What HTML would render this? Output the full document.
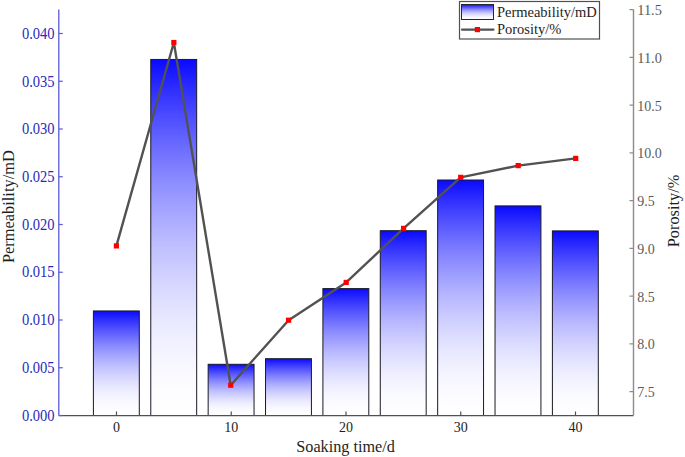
<!DOCTYPE html>
<html><head><meta charset="utf-8"><style>
html,body{margin:0;padding:0;background:#fff;}
svg{display:block;font-family:"Liberation Serif",serif;}
</style></head><body>
<svg width="685" height="457" viewBox="0 0 685 457">
<defs>
<linearGradient id="g" x1="0" y1="0" x2="0" y2="1"><stop offset="0.000" stop-color="rgb(10,10,255)"/><stop offset="0.083" stop-color="rgb(46,46,255)"/><stop offset="0.167" stop-color="rgb(79,79,255)"/><stop offset="0.250" stop-color="rgb(109,109,255)"/><stop offset="0.333" stop-color="rgb(137,137,255)"/><stop offset="0.417" stop-color="rgb(162,162,255)"/><stop offset="0.500" stop-color="rgb(185,185,255)"/><stop offset="0.583" stop-color="rgb(204,204,255)"/><stop offset="0.667" stop-color="rgb(221,221,255)"/><stop offset="0.750" stop-color="rgb(235,235,255)"/><stop offset="0.833" stop-color="rgb(245,245,255)"/><stop offset="0.917" stop-color="rgb(252,252,255)"/><stop offset="1.000" stop-color="rgb(255,255,255)"/></linearGradient>
</defs>
<rect x="93.4" y="310.95" width="45.90" height="104.55" fill="url(#g)" stroke="#1a1a24" stroke-width="1"/>
<rect x="150.775" y="59.45" width="45.90" height="356.05" fill="url(#g)" stroke="#1a1a24" stroke-width="1"/>
<rect x="208.15" y="364.30" width="45.90" height="51.20" fill="url(#g)" stroke="#1a1a24" stroke-width="1"/>
<rect x="265.525" y="358.70" width="45.90" height="56.80" fill="url(#g)" stroke="#1a1a24" stroke-width="1"/>
<rect x="322.9" y="288.60" width="45.90" height="126.90" fill="url(#g)" stroke="#1a1a24" stroke-width="1"/>
<rect x="380.275" y="230.70" width="45.90" height="184.80" fill="url(#g)" stroke="#1a1a24" stroke-width="1"/>
<rect x="437.65" y="180.00" width="45.90" height="235.50" fill="url(#g)" stroke="#1a1a24" stroke-width="1"/>
<rect x="495.025" y="205.90" width="45.90" height="209.60" fill="url(#g)" stroke="#1a1a24" stroke-width="1"/>
<rect x="552.4" y="230.90" width="45.90" height="184.60" fill="url(#g)" stroke="#1a1a24" stroke-width="1"/>
<line x1="58.8" y1="415.6" x2="633.5" y2="415.6" stroke="#505050" stroke-width="1.4"/>
<line x1="116.5" y1="415.5" x2="116.5" y2="411.5" stroke="#505050" stroke-width="1.2"/>
<text x="116.50" y="431.6" text-anchor="middle" font-size="14" fill="#1e1e1e">0</text>
<line x1="231.25" y1="415.5" x2="231.25" y2="411.5" stroke="#505050" stroke-width="1.2"/>
<text x="231.25" y="431.6" text-anchor="middle" font-size="14" fill="#1e1e1e">10</text>
<line x1="346.0" y1="415.5" x2="346.0" y2="411.5" stroke="#505050" stroke-width="1.2"/>
<text x="346.00" y="431.6" text-anchor="middle" font-size="14" fill="#1e1e1e">20</text>
<line x1="460.75" y1="415.5" x2="460.75" y2="411.5" stroke="#505050" stroke-width="1.2"/>
<text x="460.75" y="431.6" text-anchor="middle" font-size="14" fill="#1e1e1e">30</text>
<line x1="575.5" y1="415.5" x2="575.5" y2="411.5" stroke="#505050" stroke-width="1.2"/>
<text x="575.50" y="431.6" text-anchor="middle" font-size="14" fill="#1e1e1e">40</text>
<line x1="58.8" y1="9.6" x2="58.8" y2="415.5" stroke="#5a5ad8" stroke-width="1.3"/>
<line x1="58.8" y1="415.5" x2="62.8" y2="415.5" stroke="#5a5ad8" stroke-width="1.2"/>
<text x="54.6" y="420.7" text-anchor="end" font-size="15.7" textLength="32.7" lengthAdjust="spacingAndGlyphs" fill="#2a2abb">0.000</text>
<line x1="58.8" y1="367.75" x2="62.8" y2="367.75" stroke="#5a5ad8" stroke-width="1.2"/>
<text x="54.6" y="372.9" text-anchor="end" font-size="15.7" textLength="32.7" lengthAdjust="spacingAndGlyphs" fill="#2a2abb">0.005</text>
<line x1="58.8" y1="320.0" x2="62.8" y2="320.0" stroke="#5a5ad8" stroke-width="1.2"/>
<text x="54.6" y="325.2" text-anchor="end" font-size="15.7" textLength="32.7" lengthAdjust="spacingAndGlyphs" fill="#2a2abb">0.010</text>
<line x1="58.8" y1="272.25" x2="62.8" y2="272.25" stroke="#5a5ad8" stroke-width="1.2"/>
<text x="54.6" y="277.4" text-anchor="end" font-size="15.7" textLength="32.7" lengthAdjust="spacingAndGlyphs" fill="#2a2abb">0.015</text>
<line x1="58.8" y1="224.5" x2="62.8" y2="224.5" stroke="#5a5ad8" stroke-width="1.2"/>
<text x="54.6" y="229.7" text-anchor="end" font-size="15.7" textLength="32.7" lengthAdjust="spacingAndGlyphs" fill="#2a2abb">0.020</text>
<line x1="58.8" y1="176.75" x2="62.8" y2="176.75" stroke="#5a5ad8" stroke-width="1.2"/>
<text x="54.6" y="181.9" text-anchor="end" font-size="15.7" textLength="32.7" lengthAdjust="spacingAndGlyphs" fill="#2a2abb">0.025</text>
<line x1="58.8" y1="129.0" x2="62.8" y2="129.0" stroke="#5a5ad8" stroke-width="1.2"/>
<text x="54.6" y="134.2" text-anchor="end" font-size="15.7" textLength="32.7" lengthAdjust="spacingAndGlyphs" fill="#2a2abb">0.030</text>
<line x1="58.8" y1="81.25" x2="62.8" y2="81.25" stroke="#5a5ad8" stroke-width="1.2"/>
<text x="54.6" y="86.5" text-anchor="end" font-size="15.7" textLength="32.7" lengthAdjust="spacingAndGlyphs" fill="#2a2abb">0.035</text>
<line x1="58.8" y1="33.5" x2="62.8" y2="33.5" stroke="#5a5ad8" stroke-width="1.2"/>
<text x="54.6" y="38.7" text-anchor="end" font-size="15.7" textLength="32.7" lengthAdjust="spacingAndGlyphs" fill="#2a2abb">0.040</text>
<line x1="633.5" y1="9.6" x2="633.5" y2="415.5" stroke="#8c8c8c" stroke-width="1.4"/>
<line x1="633.5" y1="391.625" x2="629.5" y2="391.625" stroke="#8c8c8c" stroke-width="1.2"/>
<text x="637.3" y="397.0" font-size="15.2" textLength="17.50" lengthAdjust="spacingAndGlyphs" fill="#5a5a5a">7.5</text>
<line x1="633.5" y1="343.875" x2="629.5" y2="343.875" stroke="#8c8c8c" stroke-width="1.2"/>
<text x="637.3" y="349.3" font-size="15.2" textLength="17.50" lengthAdjust="spacingAndGlyphs" fill="#5a5a5a">8.0</text>
<line x1="633.5" y1="296.125" x2="629.5" y2="296.125" stroke="#8c8c8c" stroke-width="1.2"/>
<text x="637.3" y="301.5" font-size="15.2" textLength="17.50" lengthAdjust="spacingAndGlyphs" fill="#5a5a5a">8.5</text>
<line x1="633.5" y1="248.375" x2="629.5" y2="248.375" stroke="#8c8c8c" stroke-width="1.2"/>
<text x="637.3" y="253.8" font-size="15.2" textLength="17.50" lengthAdjust="spacingAndGlyphs" fill="#5a5a5a">9.0</text>
<line x1="633.5" y1="200.625" x2="629.5" y2="200.625" stroke="#8c8c8c" stroke-width="1.2"/>
<text x="637.3" y="206.0" font-size="15.2" textLength="17.50" lengthAdjust="spacingAndGlyphs" fill="#5a5a5a">9.5</text>
<line x1="633.5" y1="152.875" x2="629.5" y2="152.875" stroke="#8c8c8c" stroke-width="1.2"/>
<text x="637.3" y="158.3" font-size="15.2" textLength="24.50" lengthAdjust="spacingAndGlyphs" fill="#5a5a5a">10.0</text>
<line x1="633.5" y1="105.125" x2="629.5" y2="105.125" stroke="#8c8c8c" stroke-width="1.2"/>
<text x="637.3" y="110.5" font-size="15.2" textLength="24.50" lengthAdjust="spacingAndGlyphs" fill="#5a5a5a">10.5</text>
<line x1="633.5" y1="57.375" x2="629.5" y2="57.375" stroke="#8c8c8c" stroke-width="1.2"/>
<text x="637.3" y="62.8" font-size="15.2" textLength="24.50" lengthAdjust="spacingAndGlyphs" fill="#5a5a5a">11.0</text>
<line x1="633.5" y1="9.625" x2="629.5" y2="9.625" stroke="#8c8c8c" stroke-width="1.2"/>
<text x="637.3" y="15.0" font-size="15.2" textLength="24.50" lengthAdjust="spacingAndGlyphs" fill="#5a5a5a">11.5</text>
<polyline points="116.40,245.90 173.85,42.50 230.70,385.20 288.60,320.20 346.20,282.40 403.60,228.40 460.70,177.35 518.20,165.60 575.70,158.40" fill="none" stroke="#525252" stroke-width="2.4" stroke-linejoin="round"/>
<rect x="113.80" y="243.30" width="5.2" height="5.2" fill="#ff0000"/>
<rect x="171.25" y="39.90" width="5.2" height="5.2" fill="#ff0000"/>
<rect x="228.10" y="382.60" width="5.2" height="5.2" fill="#ff0000"/>
<rect x="286.00" y="317.60" width="5.2" height="5.2" fill="#ff0000"/>
<rect x="343.60" y="279.80" width="5.2" height="5.2" fill="#ff0000"/>
<rect x="401.00" y="225.80" width="5.2" height="5.2" fill="#ff0000"/>
<rect x="458.10" y="174.75" width="5.2" height="5.2" fill="#ff0000"/>
<rect x="515.60" y="163.00" width="5.2" height="5.2" fill="#ff0000"/>
<rect x="573.10" y="155.80" width="5.2" height="5.2" fill="#ff0000"/>
<rect x="459.5" y="1.5" width="140" height="37.5" fill="#fff" stroke="#505050" stroke-width="1.2"/>
<rect x="461.5" y="4.5" width="32" height="15" fill="url(#g)" stroke="#262626" stroke-width="1"/>
<line x1="462" y1="29.6" x2="493.5" y2="29.6" stroke="#525252" stroke-width="2.2" stroke-linecap="round"/>
<rect x="474.8" y="27" width="5.2" height="5.2" fill="#ff0000"/>
<text x="496.9" y="16.6" font-size="14.5" fill="#1e1e1e">Permeability/mD</text>
<text x="496.9" y="34" font-size="14.5" fill="#1e1e1e">Porosity/%</text>
<text x="296.3" y="452" font-size="16.2" fill="#1e1e1e">Soaking time/d</text>
<text transform="translate(14,263.1) rotate(-90)" font-size="16.4" fill="#1e1e1e">Permeability/mD</text>
<text transform="translate(678.7,247.35) rotate(-90)" font-size="16.4" fill="#1e1e1e">Porosity/%</text>
</svg>
</body></html>
